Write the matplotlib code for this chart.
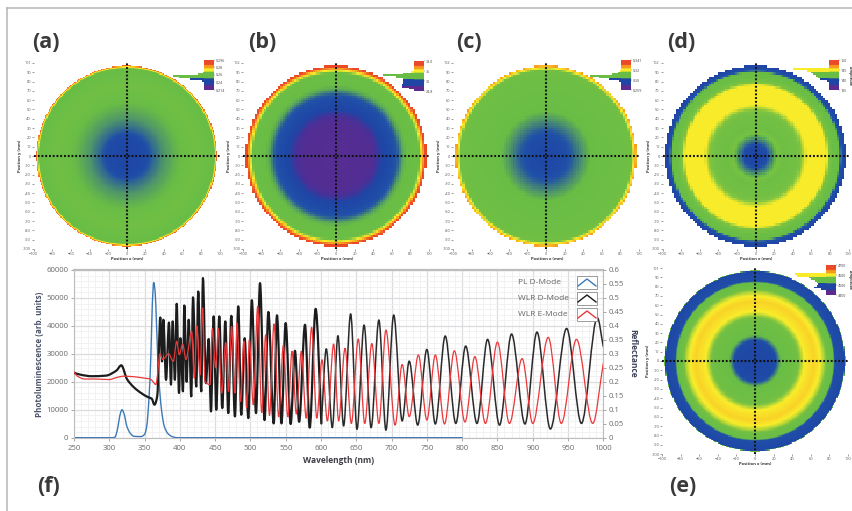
import matplotlib
matplotlib.use('Agg')
import matplotlib.pyplot as plt
import numpy as np
from matplotlib.colors import LinearSegmentedColormap, ListedColormap
from matplotlib.patches import PathPatch, Rectangle
from matplotlib.path import Path

plt.rcParams['font.family'] = ['Open Sans', 'DejaVu Sans']

W, H = 852, 511

## Spectrum data
pl_wl = [250, 305, 308, 312, 315, 318, 321, 325, 330, 335, 345, 350, 353, 356, 359, 361, 363, 365, 367, 370, 374, 378, 383, 390, 397, 800]
pl_counts = [0, 0, 200, 3500, 8000, 10000, 8500, 4000, 1500, 500, 400, 1200, 4000, 13000, 30000, 48000, 55500, 52000, 40000, 22000, 10000, 4000, 1500, 300, 0, 0]

d_wl = [250, 260, 275, 295, 310, 317, 325, 335, 345, 355, 360, 364, 368,
        372.3, 374.7, 376.6, 380.4, 384.6, 387.4, 389.8, 393, 395.5, 398.8, 400.7, 404.4, 406.3, 409.6, 412.5, 416.2,
        418.6, 423.3, 426, 430.4, 432.7, 437, 440.8, 444.1, 447.9, 451.6, 455.9, 460.1, 464.4, 468.6, 472.9, 478,
        482.8, 487, 491.8, 497, 502, 507.9, 513.6, 520, 525.4, 533, 537.6, 544, 549.9, 557, 563.1, 569, 577.3,
        584, 592.4, 600.5, 607.5, 616, 624, 632, 642, 651, 661, 671, 682, 692, 703, 715, 725, 737, 750,
        762, 776, 791, 805, 821, 836, 853, 870, 889, 906, 925, 948, 969, 991.5, 1000]
d_refl = [.232, .225, .22, .222, .24, .259, .21, .18, .16, .145, .14, .118, .15,
          .43, .273, .422, .207, .412, .19, .416, .207, .479, .16, .356, .166, .473, .2, .422, .148,
          .502, .183, .523, .166, .571, .195, .353, .094, .434, .1, .434, .106, .416, .088, .436, .076,
          .47, .082, .356, .07, .492, .088, .553, .063, .45, .051, .438, .051, .41, .049, .311, .057, .404,
          .036, .461, .051, .318, .036, .365, .042, .443, .03, .403, .036, .421, .027, .439, .06, .274, .045, .316,
          .049, .364, .051, .328, .051, .352, .045, .371, .049, .378, .031, .391, .051, .43, .326]

e_wl = [250, 255, 265, 280, 300, 310, 320, 335, 350, 358, 362, 366,
        372, 375.6, 384, 390.7, 395.5, 399.2, 404, 408.7, 416.7, 420.5, 424, 428.5, 432.3, 435.6, 442.7, 446, 450.7,
        454.5, 459.2, 465, 469, 473.3, 478, 481, 486, 490.8, 494.6, 498.4, 504, 510.3, 516, 521.6, 527, 533.4, 540,
        546.6, 553, 558.9, 565, 572.1, 579, 586.7, 594, 601.4, 609, 617.9, 625, 634, 643, 652.8, 662, 672, 682, 692,
        705, 715, 725, 738, 750, 762, 775, 789, 804, 818, 833, 850, 867, 885, 900, 922, 940.5, 962, 985, 1000]
e_refl = [.235, .22, .21, .21, .208, .215, .22, .218, .213, .21, .2, .19,
          .3, .28, .3, .273, .345, .297, .335, .28, .38, .213, .4, .225, .464, .2, .19, .39, .25,
          .39, .16, .34, .165, .398, .16, .41, .13, .345, .106, .35, .118, .47, .09, .368, .08, .407, .075,
          .33, .075, .309, .085, .309, .07, .395, .07, .279, .06, .335, .06, .32, .051, .353, .051, .337, .051, .385,
          .045, .262, .075, .296, .063, .296, .049, .311, .056, .29, .051, .342, .051, .283, .051, .359, .051, .352, .051, .266]

wl_ticks = list(range(250, 1001, 50))
count_ticks = list(range(0, 60001, 10000))
refl_ticks = [0, .05, .1, .15, .2, .25, .3, .35, .4, .45, .5, .55, .6]
refl_labels = ['0', '0.05', '0.1', '0.15', '0.2', '0.25', '0.3', '0.35', '0.4', '0.45', '0.5', '0.55', '0.6']
legend_names = ['PL D-Mode', 'WLR D-Mode', 'WLR E-Mode']
legend_colours = ['#3a78b8', '#1c1c1c', '#e8383a']

## Wafer maps, radial profiles (radius in mm, position on the colour scale)
radius_a = [0, 20, 30, 40, 50, 58, 75, 91, 94, 95.5, 97]
level_a = [.21, .24, .34, .42, .47, .50, .53, .50, .50, .72, .95]
radius_b = [0, 35, 42, 50, 60, 66, 72, 76, 89, 92, 94, 95.5, 97]
level_b = [.05, .06, .12, .20, .26, .30, .46, .50, .51, .72, .85, 1.0, 1.0]
radius_c = [0, 18, 27, 37, 48, 85, 92, 94.5, 96, 97]
level_c = [.21, .25, .30, .40, .50, .52, .53, .72, .78, .85]
radius_d = [0, 11, 16, 22, 25, 30, 45, 50, 55, 76, 79, 84, 90, 92, 97]
level_d = [.20, .24, .35, .48, .56, .52, .54, .60, .72, .72, .58, .51, .50, .28, .20]
radius_e = [0, 21, 23, 26, 28, 45, 49, 53, 58, 64, 70, 74, 78, 84, 86, 96, 97]
level_e = [.21, .24, .30, .42, .50, .53, .62, .72, .74, .76, .72, .64, .52, .50, .27, .22, .55]

hist_a = [0, 0, 0, 0, 0, 0, 0, .03, .2, 1, .8, .45, .05, 0, 0, 0, 0, 0]
hist_b = [0, 0, 0, 0, 0, 0, .1, .35, 1, .58, .35, .35, .37, .37, .38, .4, .15, 0]
hist_c = [0, 0, 0, 0, 0, 0, .02, .1, .3, 1, .7, .4, .08, 0, 0, 0, 0, 0]
hist_d = [0, 0, 0, 0, 0, 1, .6, .5, .45, .35, .3, .25, .05, 0, 0, 0, 0, 0]
hist_e = [0, 0, 0, 0, 0, 1, .95, .55, .5, .35, .3, .25, .3, .4, .15, 0, 0, 0]

scale_a = ['0.296', '0.28', '0.26', '0.24', '0.214']
scale_b = ['38.0', '35', '30', '24.8']
scale_c = ['0.341', '0.32', '0.30', '0.259']
scale_d = ['150', '145', '140', '135']
scale_e = ['4700', '4600', '4500', '4450']
x_ticks = list(range(-100, 101, 20))
y_ticks = list(range(-100, 91, 10))

wafer_cmap = LinearSegmentedColormap.from_list('wafer', [
    (0, '#5d2b90'), (.12, '#4a2f96'), (.2, '#1f45a5'), (.28, '#1f4fa8'), (.5, '#69bd45'), (.58, '#7cc242'),
    (.72, '#f8ec2a'), (.85, '#f79a20'), (1, '#ea4a28')])
bar_colours = ['#ea4a28'] * 3 + ['#f79a20'] * 2 + ['#f8ec2a'] * 2 + ['#69bd45'] * 4 + ['#1f45a5'] * 4 + ['#5d2b90'] * 3

fig = plt.figure(figsize=(W / 100, H / 100), dpi=100)


def pixel_axes(left, top, right, bottom, **kw):
    return fig.add_axes([left / W, 1 - bottom / H, (right - left) / W, (bottom - top) / H], **kw)


def smooth_path(xs, ys, colour, lw):
    # monotone cubic between the read points, flat at the extremes
    xs, ys = np.array(xs, dtype=float), np.array(ys, dtype=float)
    h = np.diff(xs)
    s = np.diff(ys) / h
    m = np.zeros_like(xs)
    m[0], m[-1] = s[0], s[-1]
    for i in range(1, len(xs) - 1):
        if s[i - 1] * s[i] > 0:
            m[i] = 2 * s[i - 1] * s[i] / (s[i - 1] + s[i])
    verts = [(xs[0], ys[0])]
    codes = [Path.MOVETO]
    for i in range(len(h)):
        verts += [(xs[i] + h[i] / 3, ys[i] + m[i] * h[i] / 3),
                  (xs[i + 1] - h[i] / 3, ys[i + 1] - m[i + 1] * h[i] / 3),
                  (xs[i + 1], ys[i + 1])]
        codes += [Path.CURVE4] * 3
    return PathPatch(Path(verts, codes), fill=False, edgecolor=colour, lw=lw, capstyle='round', joinstyle='round')


def wafer(cx, cy, step, radius, level, hist, scale, bar_left, bar_top, hist_px, x_max, amplitude=False):
    k = 0.93  # px per mm
    left, right = cx - 100 * k, cx + x_max * k
    top, bottom = cy - 100 * k, cy + 100 * k
    ax = pixel_axes(left, top, right, bottom)
    ax.patch.set_alpha(0)
    edges = np.arange(-100, x_max + step, step)
    xc = (edges[:-1] + edges[1:]) / 2
    X, Y = np.meshgrid(xc, xc)
    R = np.hypot(X, Y)
    vals = np.ma.masked_where(R > 97, np.interp(R, radius, level))
    ax.pcolormesh(edges, edges, vals, cmap=wafer_cmap, vmin=0, vmax=1, rasterized=True)
    ax.plot([-100, 100], [0, 0], color='#111111', lw=1.5, ls=(0, (0.9, 0.9)))
    ax.plot([0, 0], [-100, 100], color='#111111', lw=1.5, ls=(0, (0.9, 0.9)))
    ax.set_xlim(-100, x_max)
    ax.set_ylim(-100, 100)
    ax.set_xticks(x_ticks)
    ax.set_yticks(y_ticks + [100])
    ax.set_yticklabels([str(t) for t in y_ticks] + [str(x_max)])
    ax.tick_params(labelsize=2.8, length=1.2, width=0.4, pad=0.8, colors='#555555')
    for s in ax.spines.values():
        s.set_visible(False)
    ax.set_xlabel('Position x (mm)', fontsize=3, fontweight='bold', color='#333333', labelpad=0.8)
    ax.set_ylabel('Position y (mm)', fontsize=3, fontweight='bold', color='#333333', labelpad=0.8)

    # colour scale with its histogram
    bw, bh = 10, 30
    bar = pixel_axes(bar_left, bar_top, bar_left + bw, bar_top + bh)
    bar.imshow(np.arange(len(bar_colours)).reshape(-1, 1), cmap=ListedColormap(bar_colours), aspect='auto')
    bar.set_xticks([])
    bar.yaxis.tick_right()
    bar.set_yticks(np.linspace(-0.5, len(bar_colours) - 0.5, len(scale)))
    bar.set_yticklabels(scale)
    bar.tick_params(axis='y', labelsize=2.6, length=0.8, width=0.3, pad=0.3, colors='#444444')
    for s in bar.spines.values():
        s.set_visible(False)
    hx = pixel_axes(bar_left - hist_px, bar_top, bar_left, bar_top + bh)
    hx.patch.set_alpha(0)
    hx.barh(range(len(hist)), hist, height=1, color=bar_colours)
    hx.set_xlim(1, 0)
    hx.set_ylim(len(hist) - 0.5, -0.5)
    hx.axis('off')
    if amplitude:
        fig.text(850 / W, 1 - (bar_top + bh / 2) / H, 'Amplitude', rotation=-90, fontsize=2.6,
                 fontweight='bold', color='#333333', ha='center', va='center')


wafer(126.7, 156, 1.25, radius_a, level_a, hist_a, scale_a, 204, 60, 31, 101)
wafer(336, 156, 2.5, radius_b, level_b, hist_b, scale_b, 414, 61, 31, 102)
wafer(546, 156, 2.5, radius_c, level_c, hist_c, scale_c, 621, 60, 31, 102)
wafer(755.5, 156, 2.5, radius_d, level_d, hist_d, scale_d, 829, 60, 36, 102, amplitude=True)
wafer(755, 361, 1.25, radius_e, level_e, hist_e, scale_e, 826, 265, 31, 101, amplitude=True)

## Spectrum
ax = pixel_axes(74, 270, 603.3, 437.7)
ax.set_xlim(250, 1000)
ax.set_ylim(0, 60000)
ax.set_xticks(wl_ticks)
ax.set_yticks(count_ticks)
ax.set_xticks(range(250, 1001, 10), minor=True)
ax.set_yticks(range(0, 60001, 2000), minor=True)
ax.grid(which='minor', color='#f0f0f0', lw=0.6)
ax.grid(which='major', color='#dcdce0', lw=0.9)
ax.set_axisbelow(True)
ax.tick_params(which='minor', length=0)
ax.tick_params(which='major', labelsize=5.6, length=2.5, width=0.6, color='#999999', labelcolor='#6a6a6a', pad=3)
ax.tick_params(axis='y', which='major', pad=1.5)
for s in ax.spines.values():
    s.set_color('#bdbdbd')
    s.set_linewidth(0.8)
ax.spines['top'].set_linewidth(1.6)
ax.set_xlabel('Wavelength (nm)', fontsize=6, fontweight='bold', color='#3c3c44', labelpad=2.5)
ax.set_ylabel('Photoluminescence (arb. units)', fontsize=5.8, fontweight='bold', color='#4a5468', labelpad=2)

ax2 = ax.twinx()
ax2.set_ylim(0, 0.6)
ax2.set_yticks(refl_ticks)
ax2.set_yticklabels(refl_labels)
ax2.tick_params(labelsize=5.6, length=2.5, width=0.6, color='#999999', labelcolor='#6a6a6a', pad=1)
for s in ax2.spines.values():
    s.set_visible(False)
ax2.patch.set_visible(False)
fig.text(633 / W, 1 - 353 / H, 'Reflectance', rotation=-90, fontsize=6, fontweight='bold', color='#3c4458',
         ha='center', va='center')

d_wl = np.array(d_wl)
cut = int(np.searchsorted(d_wl, 600))
ax.add_patch(smooth_path(pl_wl, pl_counts, '#3a78b8', 1.0))
ax2.add_patch(smooth_path(d_wl[:cut + 1], d_refl[:cut + 1], '#1c1c1c', 1.6))
ax2.add_patch(smooth_path(d_wl[cut:], d_refl[cut:], '#2a2a2a', 1.1))
ax2.add_patch(smooth_path(e_wl, e_refl, '#e8383a', 0.9))

## Overlay in picture pixels: frame, legend, panel letters
ov = fig.add_axes([0, 0, 1, 1], zorder=20)
ov.set_xlim(0, W)
ov.set_ylim(H, 0)
ov.axis('off')
ov.plot([7, W], [8, 8], color='#b5b5b5', lw=1.1)
ov.plot([7, 7], [8, H], color='#b5b5b5', lw=1.1)

for top, name, colour in zip([276, 292, 308], legend_names, legend_colours):
    ov.add_patch(Rectangle((577, top), 20, 13, fill=True, facecolor='white', edgecolor='#9a9a9a', lw=0.7))
    ov.plot([578, 587, 596], [top + 10, top + 3, top + 10], color=colour, lw=1.0)
    ov.text(518, top + 6.5, name, fontsize=6, color='#666666', va='center', ha='left')

for label, x, y in [('(a)', 32, 42), ('(b)', 248, 42), ('(c)', 456, 42), ('(d)', 667, 42), ('(e)', 669, 487), ('(f)', 37, 487)]:
    ov.text(x, y, label, fontsize=15.6, fontweight='bold', color='#3a3a3a', va='center', ha='left')

fig.savefig('out.png', dpi=100)
